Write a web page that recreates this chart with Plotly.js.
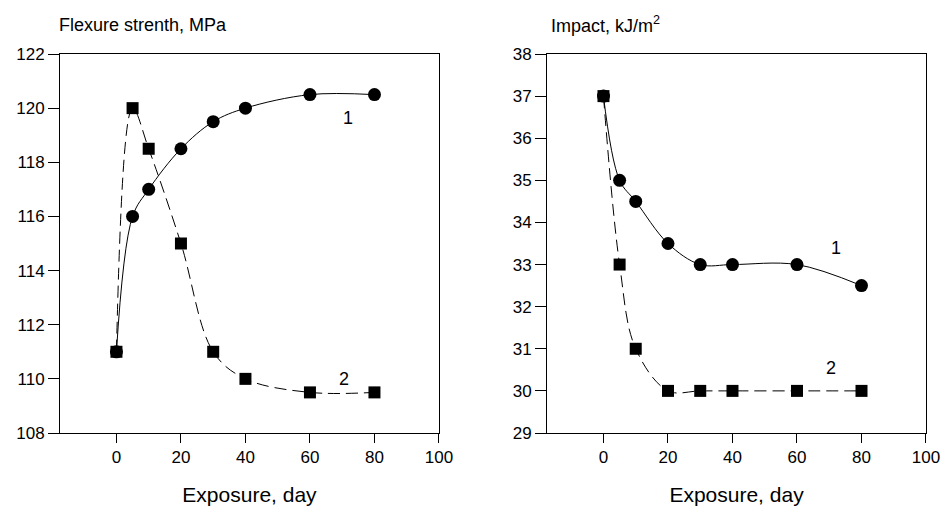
<!DOCTYPE html>
<html>
<head>
<meta charset="utf-8">
<script src="https://cdn.plot.ly/plotly-3.0.1.min.js"></script>
<style>html,body{margin:0;padding:0;background:#fff;}#chart{width:943px;height:507px;}</style>
</head>
<body>
<div id="chart"></div>
<script>
var exposure = [0, 5, 10, 20, 30, 40, 60, 80];
var flexure1 = [111, 116, 117, 118.5, 119.5, 120, 120.5, 120.5];
var flexure2 = [111, 120, 118.5, 115, 111, 110, 109.5, 109.5];
var impact1 = [37, 35, 34.5, 33.5, 33, 33, 33, 32.5];
var impact2 = [37, 33, 31, 30, 30, 30, 30, 30];
var xTicks = [0, 20, 40, 60, 80, 100];
var flexTicks = [108, 110, 112, 114, 116, 118, 120, 122];
var impactTicks = [29, 30, 31, 32, 33, 34, 35, 36, 37, 38];

var font = 'Liberation Sans, Arial, sans-serif';
function sq(x, y, xa, ya) {
  return {x: x, y: y, xaxis: xa, yaxis: ya, mode: 'lines+markers', type: 'scatter',
    line: {color: '#000', width: 1, shape: 'spline', smoothing: 1, dash: '12px,6px'},
    marker: {symbol: 'square', size: 12, color: '#000'}, hoverinfo: 'none', showlegend: false};
}
function ci(x, y, xa, ya) {
  return {x: x, y: y, xaxis: xa, yaxis: ya, mode: 'lines+markers', type: 'scatter',
    line: {color: '#000', width: 1, shape: 'spline', smoothing: 1},
    marker: {symbol: 'circle', size: 13, color: '#000'}, hoverinfo: 'none', showlegend: false};
}
var data = [
  sq(exposure, flexure2, 'x', 'y'),
  ci(exposure, flexure1, 'x', 'y'),
  sq(exposure, impact2, 'x2', 'y2'),
  ci(exposure, impact1, 'x2', 'y2')
];
function xaxis(dom, anchor) {
  return {domain: dom, anchor: anchor, range: [-17.5, 100], tickvals: xTicks,
    showline: true, mirror: true, linecolor: '#000', linewidth: 1,
    ticks: 'outside', ticklen: 9, tickcolor: '#000', showgrid: false, zeroline: false,
    tickfont: {family: font, size: 17, color: '#000'},
    title: {text: 'Exposure, day', font: {family: font, size: 21, color: '#000'}, standoff: 20}};
}
function yaxis(range, ticks, anchor) {
  return {domain: [0, 1], anchor: anchor, range: range, tickvals: ticks,
    showline: true, mirror: true, linecolor: '#000', linewidth: 1,
    ticks: 'outside', ticklen: 11, tickcolor: '#000', showgrid: false, zeroline: false,
    tickfont: {family: font, size: 17, color: '#000'}};
}
var layout = {
  width: 943, height: 507,
  margin: {l: 60, r: 17, t: 54, b: 74},
  paper_bgcolor: '#fff', plot_bgcolor: '#fff',
  xaxis: xaxis([0, 0.4376], 'y'),
  yaxis: yaxis([108, 122], flexTicks, 'x'),
  xaxis2: xaxis([0.5624, 1], 'y2'),
  yaxis2: yaxis([29, 38], impactTicks, 'x2'),
  annotations: [
    {text: 'Flexure strenth, MPa', xref: 'paper', yref: 'paper', x: -0.004, y: 1.077, xanchor: 'left', yanchor: 'middle', showarrow: false, font: {family: font, size: 18, color: '#000'}},
    {text: 'Impact, kJ/m<sup>2</sup>', xref: 'paper', yref: 'paper', x: 0.5647, y: 1.077, xanchor: 'left', yanchor: 'middle', showarrow: false, font: {family: font, size: 18, color: '#000'}},
    {text: '1', xref: 'x', yref: 'y', x: 71.7, y: 119.63, showarrow: false, font: {family: font, size: 18, color: '#000'}},
    {text: '2', xref: 'x', yref: 'y', x: 70.5, y: 110, showarrow: false, font: {family: font, size: 18, color: '#000'}},
    {text: '1', xref: 'x2', yref: 'y2', x: 72.2, y: 33.39, showarrow: false, font: {family: font, size: 18, color: '#000'}},
    {text: '2', xref: 'x2', yref: 'y2', x: 70.4, y: 30.54, showarrow: false, font: {family: font, size: 18, color: '#000'}}
  ]
};
Plotly.newPlot('chart', data, layout, {staticPlot: true, displayModeBar: false});
</script>
</body>
</html>
